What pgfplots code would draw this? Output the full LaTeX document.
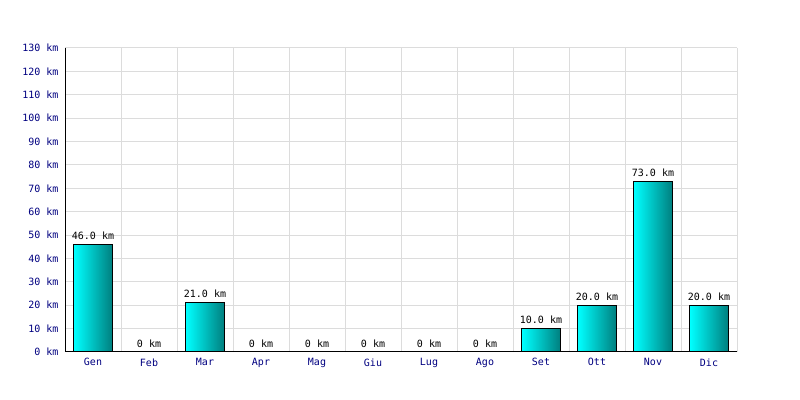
\documentclass[border=0pt]{standalone}
\usepackage{pgfplots}
\pgfplotsset{compat=1.18}
\usepackage{fontspec}
\setmainfont{DejaVu Sans Mono}
\definecolor{navyc}{RGB}{0,0,128}
\definecolor{gridgray}{RGB}{220,220,220}
\definecolor{barL}{RGB}{0,255,255}
\definecolor{barR}{RGB}{0,128,128}
\pgfplotsset{kmbar/.style={draw=black, line width=1bp, left color=barL, right color=barR, shading=axis, shading angle=90}}
\begin{document}
\begin{tikzpicture}[font=\fontsize{10bp}{12bp}\selectfont]
\useasboundingbox (0,0) rectangle (800bp,400bp);
\begin{axis}[
  at={(65bp,48bp)}, anchor=south west,
  scale only axis, width=672bp, height=304bp,
  xmin=-0.5, xmax=11.5, ymin=0, ymax=130,
  axis x line*=bottom, axis y line*=left,
  axis line style={black, line width=1bp, -},
  xtick={0,...,11},
  xticklabels={Gen,Feb,Mar,Apr,Mag,Giu,Lug,Ago,Set,Ott,Nov,Dic},
  minor xtick={-0.5,0.5,...,11.5},
  xminorgrids=true, xmajorgrids=false,
  ytick={0,10,...,130},
  yticklabels={0 km,10 km,20 km,30 km,40 km,50 km,60 km,70 km,80 km,90 km,100 km,110 km,120 km,130 km},
  ymajorgrids=true,
  grid style={gridgray, line width=1bp},
  minor grid style={gridgray, line width=1bp},
  major tick length=0pt, minor tick length=0pt,
  tick label style={text=navyc, font=\fontsize{10bp}{12bp}\selectfont},
  yticklabel style={xshift=-3bp},
  xticklabel style={yshift=-3bp},
  ybar, bar width=0.68, bar shift=0pt,
  point meta=explicit symbolic,
  nodes near coords,
  every node near coord/.append style={text=black, font=\fontsize{10bp}{12bp}\selectfont, anchor=south, yshift=1bp},
  clip=false,
]
\addplot[kmbar] coordinates {(0,46) [46.0 km]};
\addplot[kmbar] coordinates {(1,0) [0 km]};
\addplot[kmbar] coordinates {(2,21) [21.0 km]};
\addplot[kmbar] coordinates {(3,0) [0 km]};
\addplot[kmbar] coordinates {(4,0) [0 km]};
\addplot[kmbar] coordinates {(5,0) [0 km]};
\addplot[kmbar] coordinates {(6,0) [0 km]};
\addplot[kmbar] coordinates {(7,0) [0 km]};
\addplot[kmbar] coordinates {(8,10) [10.0 km]};
\addplot[kmbar] coordinates {(9,20) [20.0 km]};
\addplot[kmbar] coordinates {(10,73) [73.0 km]};
\addplot[kmbar] coordinates {(11,20) [20.0 km]};
\end{axis}
\end{tikzpicture}
\end{document}
